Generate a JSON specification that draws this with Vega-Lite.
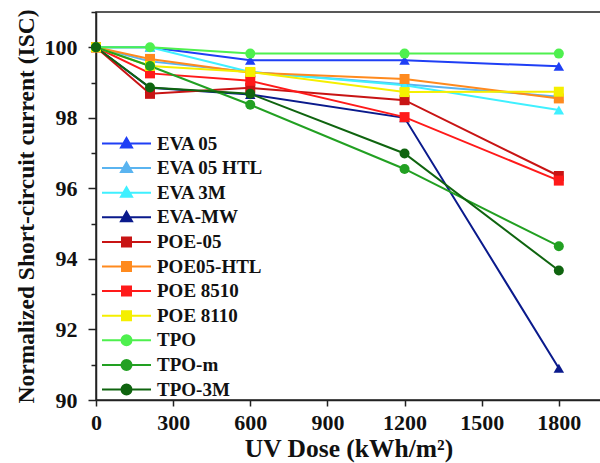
{
  "$schema": "https://vega.github.io/schema/vega-lite/v6.json",
  "width": 505,
  "height": 388,
  "autosize": {"type": "none"},
  "padding": {"left": 96, "top": 12, "right": 0, "bottom": 63},
  "background": "white",
  "config": {
    "view": {"stroke": "#222", "strokeWidth": 1.5},
    "font": "Liberation Serif",
    "axis": {
      "labelFont": "Liberation Serif", "labelFontWeight": "bold", "labelFontSize": 22, "labelColor": "#111",
      "titleFont": "Liberation Serif", "titleFontWeight": "bold", "titleFontSize": 23, "titleColor": "#111",
      "domainColor": "#222", "domainWidth": 1.5, "tickColor": "#222", "tickWidth": 1.5, "grid": false
    },
    "legend": {
      "orient": "none", "legendX": 21, "legendY": 122, "padding": 0,
      "labelFont": "Liberation Serif", "labelFontWeight": "bold", "labelFontSize": 19, "labelColor": "#111",
      "symbolSize": 100, "symbolStrokeWidth": 2, "labelOffset": 21, "rowPadding": 4.6, "labelLimit": 300
    }
  },
  "data": {"values": [
    {"series": "EVA 05", "dose": 0, "isc": 100}, {"series": "EVA 05", "dose": 210, "isc": 100}, {"series": "EVA 05", "dose": 600, "isc": 99.63}, {"series": "EVA 05", "dose": 1200, "isc": 99.63}, {"series": "EVA 05", "dose": 1800, "isc": 99.46},
    {"series": "EVA 05 HTL", "dose": 0, "isc": 100}, {"series": "EVA 05 HTL", "dose": 210, "isc": 99.6}, {"series": "EVA 05 HTL", "dose": 600, "isc": 99.3}, {"series": "EVA 05 HTL", "dose": 1200, "isc": 98.95}, {"series": "EVA 05 HTL", "dose": 1800, "isc": 98.6},
    {"series": "EVA 3M", "dose": 0, "isc": 100}, {"series": "EVA 3M", "dose": 210, "isc": 100}, {"series": "EVA 3M", "dose": 600, "isc": 99.3}, {"series": "EVA 3M", "dose": 1200, "isc": 98.92}, {"series": "EVA 3M", "dose": 1800, "isc": 98.22},
    {"series": "EVA-MW", "dose": 0, "isc": 100}, {"series": "EVA-MW", "dose": 210, "isc": 98.85}, {"series": "EVA-MW", "dose": 600, "isc": 98.66}, {"series": "EVA-MW", "dose": 1200, "isc": 98.0}, {"series": "EVA-MW", "dose": 1800, "isc": 90.9},
    {"series": "POE-05", "dose": 0, "isc": 100}, {"series": "POE-05", "dose": 210, "isc": 98.68}, {"series": "POE-05", "dose": 600, "isc": 98.85}, {"series": "POE-05", "dose": 1200, "isc": 98.5}, {"series": "POE-05", "dose": 1800, "isc": 96.35},
    {"series": "POE05-HTL", "dose": 0, "isc": 100}, {"series": "POE05-HTL", "dose": 210, "isc": 99.67}, {"series": "POE05-HTL", "dose": 600, "isc": 99.28}, {"series": "POE05-HTL", "dose": 1200, "isc": 99.1}, {"series": "POE05-HTL", "dose": 1800, "isc": 98.55},
    {"series": "POE 8510", "dose": 0, "isc": 100}, {"series": "POE 8510", "dose": 210, "isc": 99.26}, {"series": "POE 8510", "dose": 600, "isc": 99.05}, {"series": "POE 8510", "dose": 1200, "isc": 98.02}, {"series": "POE 8510", "dose": 1800, "isc": 96.22},
    {"series": "POE 8110", "dose": 0, "isc": 100}, {"series": "POE 8110", "dose": 210, "isc": 99.47}, {"series": "POE 8110", "dose": 600, "isc": 99.3}, {"series": "POE 8110", "dose": 1200, "isc": 98.73}, {"series": "POE 8110", "dose": 1800, "isc": 98.74},
    {"series": "TPO", "dose": 0, "isc": 100}, {"series": "TPO", "dose": 210, "isc": 100}, {"series": "TPO", "dose": 600, "isc": 99.82}, {"series": "TPO", "dose": 1200, "isc": 99.82}, {"series": "TPO", "dose": 1800, "isc": 99.82},
    {"series": "TPO-m", "dose": 0, "isc": 100}, {"series": "TPO-m", "dose": 210, "isc": 99.47}, {"series": "TPO-m", "dose": 600, "isc": 98.37}, {"series": "TPO-m", "dose": 1200, "isc": 96.55}, {"series": "TPO-m", "dose": 1800, "isc": 94.36},
    {"series": "TPO-3M", "dose": 0, "isc": 100}, {"series": "TPO-3M", "dose": 210, "isc": 98.86}, {"series": "TPO-3M", "dose": 600, "isc": 98.68}, {"series": "TPO-3M", "dose": 1200, "isc": 96.99}, {"series": "TPO-3M", "dose": 1800, "isc": 93.67}
  ]},
  "encoding": {
    "x": {"field": "dose", "type": "quantitative", "scale": {"domain": [0, 1964], "nice": false, "zero": false},
      "axis": {"values": [0, 300, 600, 900, 1200, 1500, 1800], "format": "d", "tickSize": 6, "labelPadding": 6, "title": "UV Dose (kWh/m²)", "titleFontSize": 25.5, "titlePadding": 3, "labelFlush": false}},
    "y": {"field": "isc", "type": "quantitative", "scale": {"domain": [90, 101], "nice": false, "zero": false},
      "axis": {"values": [90, 91, 92, 93, 94, 95, 96, 97, 98, 99, 100, 101], "labelExpr": "datum.value % 2 === 0 && datum.value <= 100 ? datum.label : ''",
        "tickSize": {"condition": {"test": "datum.value % 2 === 0", "value": 8}, "value": 5},
        "labelPadding": 11, "title": "Normalized Short-circuit current (ISC)", "titleFontSize": 23.5, "titlePadding": 6, "labelFlush": false}}
  },
  "layer": [
    {
      "transform": [{"filter": "false"}],
      "mark": {"type": "point", "filled": true, "opacity": 1},
      "encoding": {
        "color": {"field": "series", "type": "nominal", "legend": {"title": null},
          "scale": {"domain": ["EVA 05", "EVA 05 HTL", "EVA 3M", "EVA-MW", "POE-05", "POE05-HTL", "POE 8510", "POE 8110", "TPO", "TPO-m", "TPO-3M"],
            "range": ["#1f3ff5", "#5ab4f0", "#3ff0ff", "#0a1a8c", "#c81414", "#ff8a1e", "#ff1a1a", "#f5ef00", "#4ef04e", "#22a022", "#0f640f"]}},
        "stroke": {"field": "series", "type": "nominal", "legend": {"title": null},
          "scale": {"domain": ["EVA 05", "EVA 05 HTL", "EVA 3M", "EVA-MW", "POE-05", "POE05-HTL", "POE 8510", "POE 8110", "TPO", "TPO-m", "TPO-3M"],
            "range": ["#1f3ff5", "#5ab4f0", "#3ff0ff", "#0a1a8c", "#c81414", "#ff8a1e", "#ff1a1a", "#f5ef00", "#4ef04e", "#22a022", "#0f640f"]}},
        "shape": {"field": "series", "type": "nominal", "legend": {"title": null},
          "scale": {"domain": ["EVA 05", "EVA 05 HTL", "EVA 3M", "EVA-MW", "POE-05", "POE05-HTL", "POE 8510", "POE 8110", "TPO", "TPO-m", "TPO-3M"],
            "range": [
              "M-4.9,0H4.9M0,-1.1L1.1,0.8H-1.1Z", "M-4.9,0H4.9M0,-1.1L1.1,0.8H-1.1Z", "M-4.9,0H4.9M0,-1.1L1.1,0.8H-1.1Z", "M-4.9,0H4.9M0,-1.1L1.1,0.8H-1.1Z",
              "M-4.9,0H4.9M-0.9,-0.9H0.9V0.9H-0.9Z", "M-4.9,0H4.9M-0.9,-0.9H0.9V0.9H-0.9Z", "M-4.9,0H4.9M-0.9,-0.9H0.9V0.9H-0.9Z", "M-4.9,0H4.9M-0.9,-0.9H0.9V0.9H-0.9Z",
              "M-4.9,0H4.9M1,0A1,1,0,1,1,-1,0A1,1,0,1,1,1,0Z", "M-4.9,0H4.9M1,0A1,1,0,1,1,-1,0A1,1,0,1,1,1,0Z", "M-4.9,0H4.9M1,0A1,1,0,1,1,-1,0A1,1,0,1,1,1,0Z"]}}
      }
    },
    {
      "mark": {"type": "line", "strokeWidth": 2},
      "encoding": {
        "color": {"field": "series", "type": "nominal", "legend": null,
          "scale": {"domain": ["EVA 05", "EVA 05 HTL", "EVA 3M", "EVA-MW", "POE-05", "POE05-HTL", "POE 8510", "POE 8110", "TPO", "TPO-m", "TPO-3M"],
            "range": ["#1f3ff5", "#5ab4f0", "#3ff0ff", "#0a1a8c", "#c81414", "#ff8a1e", "#ff1a1a", "#f5ef00", "#4ef04e", "#22a022", "#0f640f"]}},
        "order": {"field": "dose", "type": "quantitative"}
      }
    },
    {
      "transform": [{"filter": {"field": "series", "oneOf": ["EVA 05", "EVA 05 HTL", "EVA 3M", "EVA-MW"]}}],
      "mark": {"type": "point", "shape": "triangle-up", "filled": true, "opacity": 1, "size": 110},
      "encoding": {"color": {"field": "series", "type": "nominal", "legend": null}}
    },
    {
      "transform": [{"filter": {"field": "series", "oneOf": ["POE-05", "POE05-HTL", "POE 8510", "POE 8110"]}}],
      "mark": {"type": "point", "shape": "square", "filled": true, "opacity": 1, "size": 100},
      "encoding": {"color": {"field": "series", "type": "nominal", "legend": null}}
    },
    {
      "transform": [{"filter": {"field": "series", "oneOf": ["TPO", "TPO-m", "TPO-3M"]}}],
      "mark": {"type": "point", "shape": "circle", "filled": true, "opacity": 1, "size": 100},
      "encoding": {"color": {"field": "series", "type": "nominal", "legend": null}}
    }
  ]
}
